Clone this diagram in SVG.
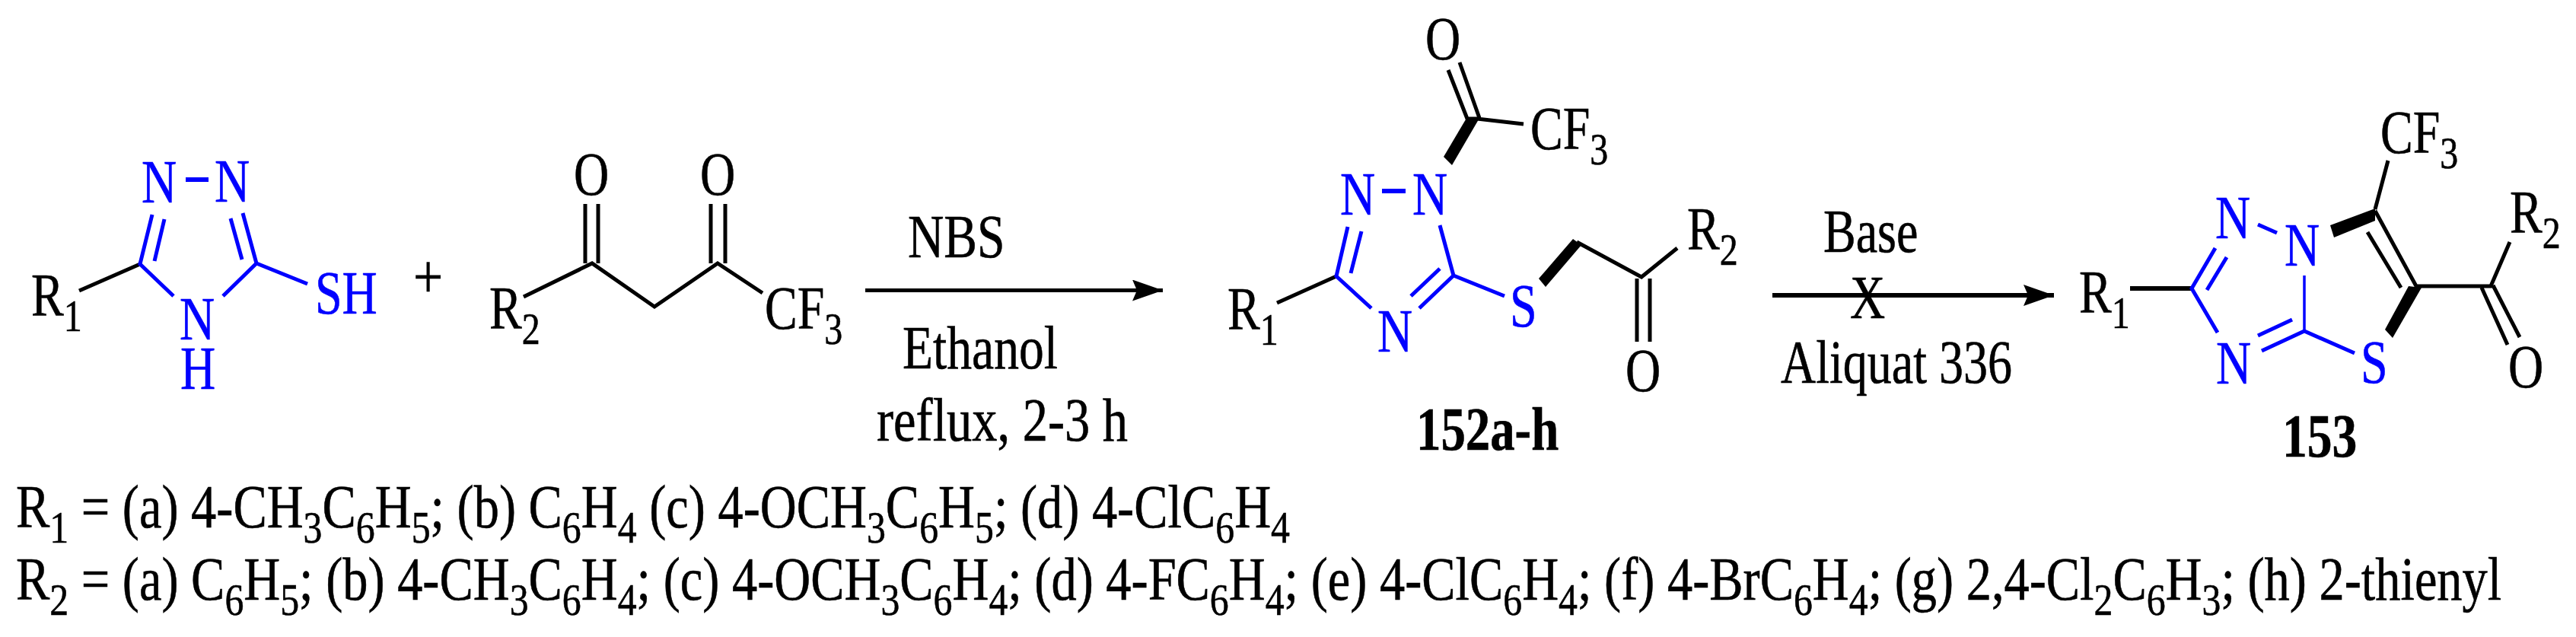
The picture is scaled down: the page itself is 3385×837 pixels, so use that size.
<svg xmlns="http://www.w3.org/2000/svg" width="3385" height="837" viewBox="0 0 3385 837">
<style>
text{font-family:"Liberation Serif","Times New Roman",serif;font-size:80px;fill:#000;stroke:#000;stroke-width:.6}
.s{font-size:60px}
.b{font-weight:bold}
text.blue{fill:#0000ff;stroke:#0000ff}
.k,.u{fill:none;stroke-linecap:butt;stroke-linejoin:miter}
.k{stroke:#000;stroke-width:5}
.u{stroke:#0000ff;stroke-width:5}
.t{stroke-width:3.5}
.w{fill:#000;stroke:none}
.a{stroke:#000;stroke-width:5;fill:none}
</style>
<defs>
<marker id="head" markerUnits="userSpaceOnUse" markerWidth="42" markerHeight="30" refX="40" refY="14" orient="auto">
<path d="M0,0 L40,14 L0,28 L6,14 Z" fill="#000"/>
</marker>
</defs>
<rect width="3385" height="837" fill="#fff"/>

<g id="triazole-thiol">
<path class="k" d="M104,382 L184,347"/>
<path class="u" d="M200,282 L184,347 L228,389 M216,288 L203,343 M319,280 L337,346 L293,389 M303,287 L318,341 M337,346 L404,373"/>
<path class="u" d="M244,236 H274" style="stroke-width:6"/>
<text transform="translate(41,415) scale(.8,1)">R<tspan class="s" dy="20">1</tspan></text>
<text class="blue" transform="translate(186,266) scale(.8,1)">N</text>
<text class="blue" transform="translate(282,265) scale(.8,1)">N</text>
<text class="blue" transform="translate(236,446) scale(.8,1)">N</text>
<text class="blue" transform="translate(237,511) scale(.8,1)">H</text>
<text class="blue" transform="translate(414,412) scale(.8,1)">SH</text>
</g>

<g id="plus"><text transform="translate(543,391) scale(.87,1.03)">+</text></g>

<g id="diketone">
<path class="k" d="M688,390 L778,346 L860,403 L943,346 L1002,385 M769,268 V346 M786,268 V346 M934,268 V346 M953,268 V346"/>
<text transform="translate(643,432) scale(.8,1)">R<tspan class="s" dy="20">2</tspan></text>
<text transform="translate(754,256) scale(.8,1)">O</text>
<text transform="translate(920,256) scale(.8,1)">O</text>
<text transform="translate(1005,432) scale(.8,1)">CF<tspan class="s" dy="20">3</tspan></text>
</g>

<g id="compound-152">
<path class="k" d="M1678,398 L1756,363"/>
<path class="u" d="M1771,298 L1756,363 L1802,405 M1789,304 L1775,359 M1892,296 L1910,362 L1865,405 M1892,353 L1854,389 M1910,362 L1977,389"/>
<path class="u" d="M1816,251 H1847" style="stroke-width:6"/>
<path class="k" d="M1918,82 L1944,155 M1903,92 L1928,156 L1941,156 L2002,163 M2072,318 L2157,364 L2204,326 M2151,366 V449 M2168,366 V449"/>
<path class="w" d="M1926,157 L1943,157 L1908,217 L1897,206 Z"/>
<path class="w" d="M2067,314 L2078,322 L2031,377 L2022,366 Z"/>
<text transform="translate(1613,433) scale(.8,1)">R<tspan class="s" dy="20">1</tspan></text>
<text class="blue" transform="translate(1761,282) scale(.8,1)">N</text>
<text class="blue" transform="translate(1856,282) scale(.8,1)">N</text>
<text class="blue" transform="translate(1810,462) scale(.8,1)">N</text>
<text class="blue" transform="translate(1984,429) scale(.8,1)">S</text>
<text transform="translate(1873,78) scale(.8,1)">O</text>
<text transform="translate(2136,514) scale(.8,1)">O</text>
<text transform="translate(2011,196) scale(.8,1)">CF<tspan class="s" dy="20">3</tspan></text>
<text transform="translate(2217,328) scale(.8,1)">R<tspan class="s" dy="20">2</tspan></text>
<text class="b" transform="translate(1861,591) scale(.81,1)">152a-h</text>
</g>

<g id="compound-153">
<path class="k" d="M2799,379 H2880" style="stroke-width:6"/>
<path class="u" d="M2911,326 L2880,379 L2914,437 M2926,338 L2900,381 M2967,295 L2992,306 M3012,420 L2967,441 M3094,464 L3028,435 L2972,461"/>
<path class="u t" d="M3028,362 V435"/>
<path class="k" d="M3121,275 L3138,211 M3121,277 L3175,376 L3273,376 L3298,318 M3111,305 L3155,378 M3276,375 L3311,443 M3261,378 L3295,453"/>
<path class="w" d="M3062,296 L3121,274 L3121,290 L3067,312 Z"/>
<path class="w" d="M3165,376 L3182,378 L3144,444 L3134,433 Z"/>
<text transform="translate(2732,411) scale(.8,1)">R<tspan class="s" dy="20">1</tspan></text>
<text class="blue" transform="translate(2911,313) scale(.8,1)">N</text>
<text class="blue" transform="translate(3002,349) scale(.8,1)">N</text>
<text class="blue" transform="translate(2912,504) scale(.8,1)">N</text>
<text class="blue" transform="translate(3102,503) scale(.8,1)">S</text>
<text transform="translate(3128,201) scale(.8,1)">CF<tspan class="s" dy="20">3</tspan></text>
<text transform="translate(3298,306) scale(.8,1)">R<tspan class="s" dy="20">2</tspan></text>
<text transform="translate(3296,509) scale(.8,1)">O</text>
<text class="b" transform="translate(2999,600) scale(.82,1)">153</text>
</g>

<g id="connectors">
<path class="a" d="M1137,381.5 H1528" marker-end="url(#head)"/>
<path class="a" d="M2329,388 H2699" style="stroke-width:6" marker-end="url(#head)"/>
</g>

<g id="conditions">
<text transform="translate(1193,338) scale(.82,1)">NBS</text>
<text transform="translate(1186,484) scale(.82,1)">Ethanol</text>
<text transform="translate(1152,579) scale(.83,1)">reflux, 2-3 h</text>
<text transform="translate(2396,331) scale(.8,1)">Base</text>
<text transform="translate(2431,418) scale(.8,1)">X</text>
<text transform="translate(2340,503) scale(.8,1)">Aliquat 336</text>
</g>

<g id="legend">
<text transform="translate(21,693) scale(.83,1)">R<tspan class="s" dy="20">1</tspan><tspan dy="-20"> = (a) 4-CH</tspan><tspan class="s" dy="20">3</tspan><tspan dy="-20">C</tspan><tspan class="s" dy="20">6</tspan><tspan dy="-20">H</tspan><tspan class="s" dy="20">5</tspan><tspan dy="-20">; (b) C</tspan><tspan class="s" dy="20">6</tspan><tspan dy="-20">H</tspan><tspan class="s" dy="20">4</tspan><tspan dy="-20"> (c) 4-OCH</tspan><tspan class="s" dy="20">3</tspan><tspan dy="-20">C</tspan><tspan class="s" dy="20">6</tspan><tspan dy="-20">H</tspan><tspan class="s" dy="20">5</tspan><tspan dy="-20">; (d) 4-ClC</tspan><tspan class="s" dy="20">6</tspan><tspan dy="-20">H</tspan><tspan class="s" dy="20">4</tspan></text>
<text transform="translate(21,788) scale(.83,1)">R<tspan class="s" dy="20">2</tspan><tspan dy="-20"> = (a) C</tspan><tspan class="s" dy="20">6</tspan><tspan dy="-20">H</tspan><tspan class="s" dy="20">5</tspan><tspan dy="-20">; (b) 4-CH</tspan><tspan class="s" dy="20">3</tspan><tspan dy="-20">C</tspan><tspan class="s" dy="20">6</tspan><tspan dy="-20">H</tspan><tspan class="s" dy="20">4</tspan><tspan dy="-20">; (c) 4-OCH</tspan><tspan class="s" dy="20">3</tspan><tspan dy="-20">C</tspan><tspan class="s" dy="20">6</tspan><tspan dy="-20">H</tspan><tspan class="s" dy="20">4</tspan><tspan dy="-20">; (d) 4-FC</tspan><tspan class="s" dy="20">6</tspan><tspan dy="-20">H</tspan><tspan class="s" dy="20">4</tspan><tspan dy="-20">; (e) 4-ClC</tspan><tspan class="s" dy="20">6</tspan><tspan dy="-20">H</tspan><tspan class="s" dy="20">4</tspan><tspan dy="-20">; (f) 4-BrC</tspan><tspan class="s" dy="20">6</tspan><tspan dy="-20">H</tspan><tspan class="s" dy="20">4</tspan><tspan dy="-20">; (g) 2,4-Cl</tspan><tspan class="s" dy="20">2</tspan><tspan dy="-20">C</tspan><tspan class="s" dy="20">6</tspan><tspan dy="-20">H</tspan><tspan class="s" dy="20">3</tspan><tspan dy="-20">; (h) 2-thienyl</tspan></text>
</g>
</svg>
